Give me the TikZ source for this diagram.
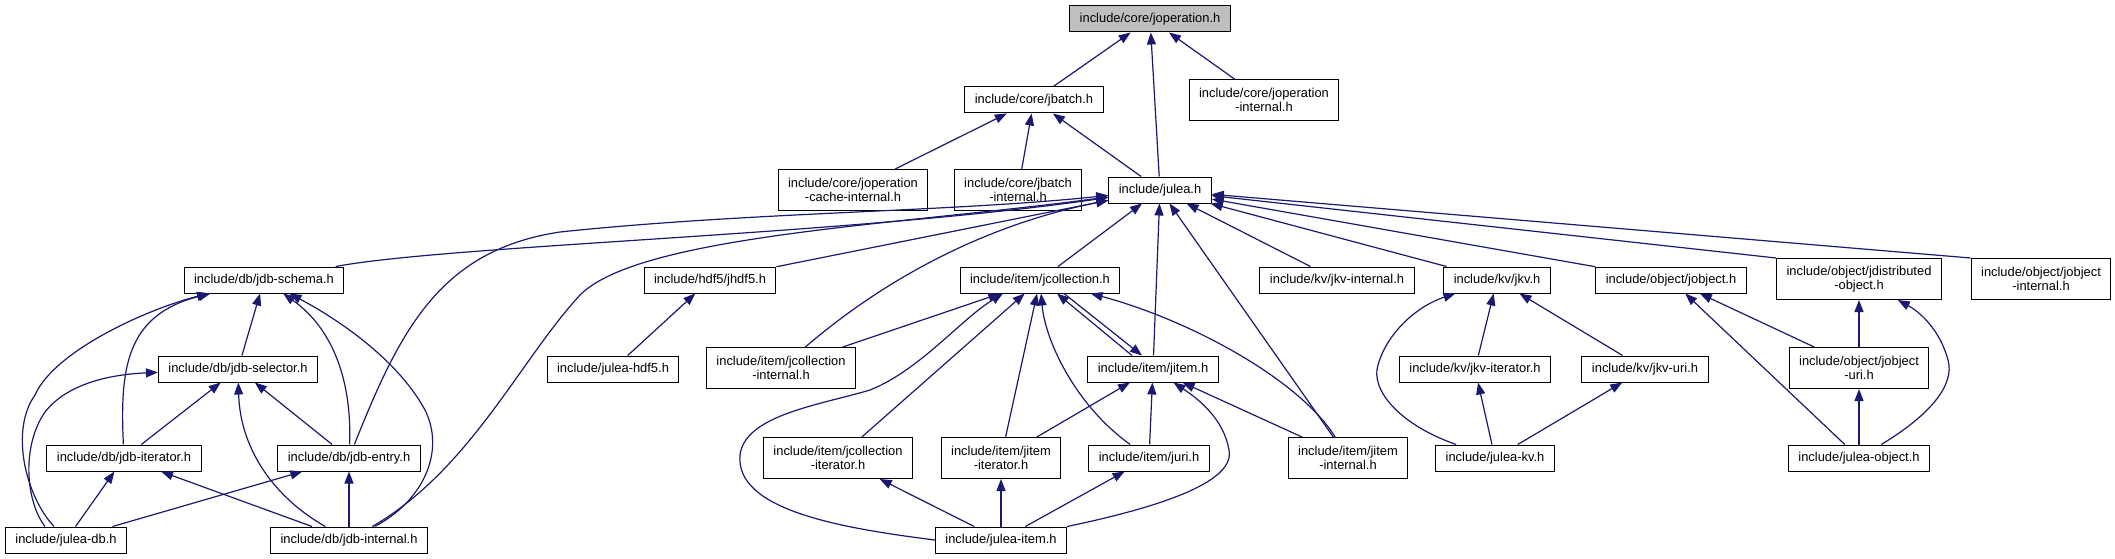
\documentclass[tikz,border=0pt]{standalone}
\usepackage{fontspec}
\setmainfont{Liberation Sans}
\usepackage{xcolor}
\usepackage{tikz}
\usetikzlibrary{arrows.meta}

\definecolor{edgeblue}{RGB}{25,25,112}
\definecolor{rootgray}{RGB}{191,191,191}

\begin{document}
\begin{tikzpicture}[x=1pt, y=-1pt,
  hfile/.style={draw=black, fill=white, line width=1pt, inner xsep=10pt, inner ysep=6pt,
    minimum height=26pt, align=center, font=\fontsize{12.9}{14}\selectfont},
  hfile2/.style={hfile, minimum height=41pt},
  inc/.style={draw=edgeblue, line width=1.2pt, -{Triangle[length=12pt,width=9pt]}}]
  \useasboundingbox (0,0) rectangle (2115,559);

  % core headers
  \node[hfile, fill=rootgray] (joperation) at (1150,19) {include/core/joperation.h};
  \node[hfile] (jbatch) at (1034,100) {include/core/jbatch.h};
  \node[hfile2] (joperint) at (1264,100) {include/core/joperation\\-internal.h};
  \node[hfile2] (jopcache) at (853,190) {include/core/joperation\\-cache-internal.h};
  \node[hfile2] (jbatchint) at (1018,190) {include/core/jbatch\\-internal.h};
  \node[hfile] (julea) at (1160,190) {include/julea.h};

  % second row
  \node[hfile] (jdbschema) at (264,280) {include/db/jdb-schema.h};
  \node[hfile] (jhdf) at (710,280) {include/hdf5/jhdf5.h};
  \node[hfile] (jcoll) at (1040,280) {include/item/jcollection.h};
  \node[hfile] (jkvint) at (1337,280) {include/kv/jkv-internal.h};
  \node[hfile] (jkv) at (1497,280) {include/kv/jkv.h};
  \node[hfile] (jobject) at (1671,280) {include/object/jobject.h};
  \node[hfile2] (jdist) at (1859,279) {include/object/jdistributed\\-object.h};
  \node[hfile2] (jobjint) at (2041,279) {include/object/jobject\\-internal.h};

  % third row
  \node[hfile] (jdbsel) at (238,369) {include/db/jdb-selector.h};
  \node[hfile] (juleahdf) at (613,369) {include/julea-hdf5.h};
  \node[hfile2] (jcollint) at (781,368) {include/item/jcollection\\-internal.h};
  \node[hfile] (jitem) at (1153,369) {include/item/jitem.h};
  \node[hfile] (jkviter) at (1475,369) {include/kv/jkv-iterator.h};
  \node[hfile] (jkvuri) at (1645,369) {include/kv/jkv-uri.h};
  \node[hfile2] (jobjuri) at (1859,368) {include/object/jobject\\-uri.h};

  % fourth row
  \node[hfile] (jdbiter) at (124,458) {include/db/jdb-iterator.h};
  \node[hfile] (jdbentry) at (349,458) {include/db/jdb-entry.h};
  \node[hfile2] (jcolliter) at (838,458) {include/item/jcollection\\-iterator.h};
  \node[hfile2] (jitemiter) at (1001,458) {include/item/jitem\\-iterator.h};
  \node[hfile] (juri) at (1149,458) {include/item/juri.h};
  \node[hfile2] (jitemint) at (1348,458) {include/item/jitem\\-internal.h};
  \node[hfile] (juleakv) at (1495,458) {include/julea-kv.h};
  \node[hfile] (juleaobj) at (1859,458) {include/julea-object.h};

  % bottom row
  \node[hfile] (juleadb) at (66,540) {include/julea-db.h};
  \node[hfile] (jdbint) at (349,540) {include/db/jdb-internal.h};
  \node[hfile] (juleaitem) at (1001,540) {include/julea-item.h};

  % core
  \draw[inc] (jbatch) -- (joperation);
  \draw[inc] (julea) -- (joperation);
  \draw[inc] (joperint) -- (joperation);
  \draw[inc] (jopcache) -- (jbatch);
  \draw[inc] (jbatchint) -- (jbatch);
  \draw[inc] (julea) -- (jbatch);

  % into julea.h
  \draw[inc] (jhdf) -- (julea);
  \draw[inc] (jcoll) -- (julea);
  \draw[inc] (jitem) -- (julea);
  \draw[inc] (jitemint) -- (julea);
  \draw[inc] (jkvint) -- (julea);
  \draw[inc] (jkv) -- (julea);
  \draw[inc] (jobject) -- (julea);
  \draw[inc] (jdist.north west) -- (julea);
  \draw[inc] (jobjint.north west) -- (julea);
  \draw[inc] (jcollint) .. controls (860,300) and (960,230) .. (julea);
  \draw[inc] (jdbschema) .. controls (450,245) and (850,235) .. (julea);
  \draw[inc] (jdbentry) .. controls (400,330) and (440,250) .. (560,232) .. controls (750,212) and (950,212) .. (julea);
  \draw[inc] (jdbint) .. controls (470,470) and (520,360) .. (580,295) .. controls (640,235) and (900,225) .. (julea);

  % item headers
  \draw[inc] (jcollint) -- (jcoll);
  \draw[inc] (jcolliter) -- (jcoll);
  \draw[inc] (jitemiter) -- (jcoll);
  \draw[inc] (juri) .. controls (1075,405) and (1045,340) .. (jcoll);
  \draw[inc] ([xshift=-21pt]jitem.north) -- ([xshift=17pt]jcoll.south);
  \draw[inc] ([xshift=24pt]jcoll.south) -- ([xshift=-11pt]jitem.north);
  \draw[inc] (jitemint) .. controls (1300,380) and (1190,320) .. (jcoll);
  \draw[inc] (juleaitem.west) .. controls (840,528) and (735,510) .. (740,455) .. controls (745,415) and (820,405) .. (870,390) .. controls (920,370) and (960,320) .. ([xshift=-37pt]jcoll.south);
  \draw[inc] (jitemiter) -- (jitem);
  \draw[inc] (juri) -- (jitem);
  \draw[inc] (jitemint) -- (jitem);
  \draw[inc] (juleaitem.north east) .. controls (1170,505) and (1235,480) .. (1229,450) .. controls (1224,420) and (1200,400) .. (jitem);
  \draw[inc] (juleaitem) -- (jcolliter);
  \draw[inc] (juleaitem) -- (jitemiter);
  \draw[inc] (juleaitem) -- (juri);

  % db headers
  \draw[inc] (jdbsel) -- (jdbschema);
  \draw[inc] ([xshift=-12pt]juleadb.north) .. controls (25,495) and (10,430) .. (35,395) .. controls (55,350) and (150,308) .. (jdbschema);
  \draw[inc] (jdbiter) .. controls (120,370) and (125,315) .. (jdbschema);
  \draw[inc] (jdbentry) .. controls (352,385) and (335,330) .. (jdbschema);
  \draw[inc] (jdbint) .. controls (425,500) and (445,450) .. (425,410) .. controls (395,355) and (330,315) .. (jdbschema);
  \draw[inc] ([xshift=-21pt]juleadb.north) .. controls (25,500) and (22,445) .. (45,412) .. controls (70,380) and (120,374) .. (jdbsel);
  \draw[inc] (jdbiter) -- (jdbsel);
  \draw[inc] (jdbint) .. controls (270,495) and (240,445) .. (jdbsel);
  \draw[inc] (jdbentry) -- (jdbsel);
  \draw[inc] (juleadb) -- (jdbiter);
  \draw[inc] (jdbint) -- (jdbiter);
  \draw[inc] (juleadb) -- (jdbentry);
  \draw[inc] (jdbint) -- (jdbentry);
  \draw[inc] (juleahdf) -- (jhdf);

  % kv headers
  \draw[inc] (jkviter) -- (jkv);
  \draw[inc] (jkvuri) -- (jkv);
  \draw[inc] (juleakv) .. controls (1400,425) and (1370,390) .. (1378,365) .. controls (1388,330) and (1420,305) .. (jkv);
  \draw[inc] (juleakv) -- (jkviter);
  \draw[inc] (juleakv) -- (jkvuri);

  % object headers
  \draw[inc] (juleaobj) -- (jobject);
  \draw[inc] (jobjuri) -- (jobject);
  \draw[inc] (jobjuri) -- (jdist);
  \draw[inc] (juleaobj) .. controls (1930,415) and (1955,385) .. (1948,360) .. controls (1940,330) and (1920,312) .. (jdist);
  \draw[inc] (juleaobj) -- (jobjuri);
\end{tikzpicture}
\end{document}
